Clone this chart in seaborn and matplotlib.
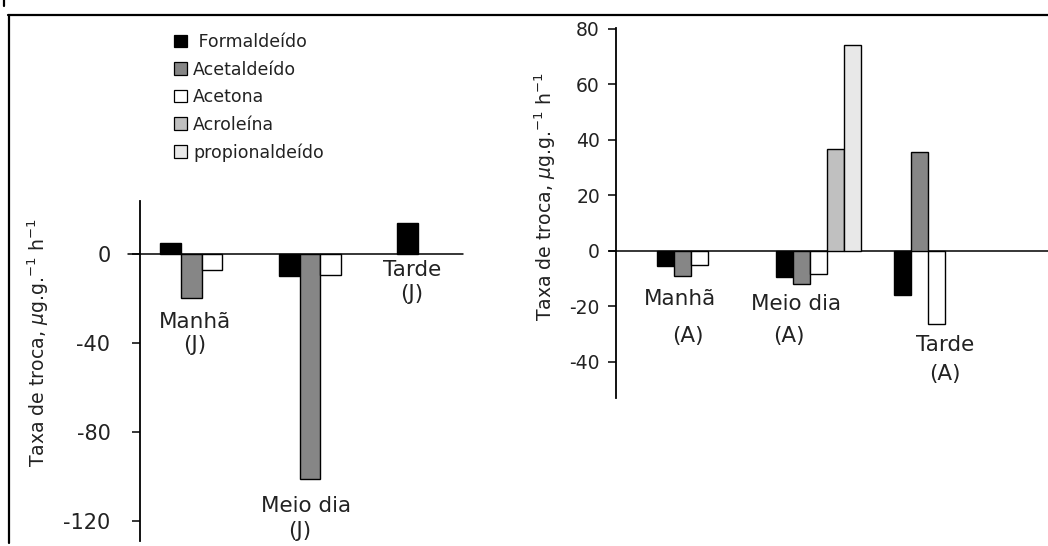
import matplotlib
matplotlib.use("Agg")
import matplotlib.pyplot as plt
from matplotlib.patches import Patch
from matplotlib.lines import Line2D
import pandas as pd
import seaborn as sns

# ---- data -------------------------------------------------------------
periods = ["Manhã", "Meio dia", "Tarde"]
compounds = ["Formaldeído", "Acetaldeído", "Acetona", "Acroleína", "propionaldeído"]

# exchange rates, plant J (three compounds)
j_formaldeido = [5, -10, 14]
j_acetaldeido = [-20, -101, 0]
j_acetona = [-7, -9.5, 0]

# exchange rates, plant A (five compounds)
a_formaldeido = [-5.5, -9.5, -16]
a_acetaldeido = [-9, -12, 35.5]
a_acetona = [-5, -8.5, -26.5]
a_acroleina = [0, 36.5, 0]
a_propionaldeido = [0, 74, 0]

j_ticks = [-120, -80, -40, 0]
a_ticks = [-40, -20, 0, 20, 40, 60, 80]

colors = ["#000000", "#868686", "#ffffff", "#c0c0c0", "#e8e8e8"]
palette = dict(zip(compounds, colors))

ylabel = r"Taxa de troca, $\mu$g.g.$^{-1}$ h$^{-1}$"


def long_frame(series):
    rows = []
    for name, vals in series.items():
        for p, v in zip(periods, vals):
            rows.append({"periodo": p, "composto": name, "taxa": v})
    df = pd.DataFrame(rows)
    # zero entries are simply not drawn (their dodge slot is kept by hue_order)
    return df[df["taxa"] != 0]


df_j = long_frame({
    "Formaldeído": j_formaldeido,
    "Acetaldeído": j_acetaldeido,
    "Acetona": j_acetona,
})
df_a = long_frame({
    "Formaldeído": a_formaldeido,
    "Acetaldeído": a_acetaldeido,
    "Acetona": a_acetona,
    "Acroleína": a_acroleina,
    "propionaldeído": a_propionaldeido,
})

# ---- figure -----------------------------------------------------------
sns.set_style("white")
plt.rcParams["font.family"] = ["DejaVu Sans"]
plt.rcParams["mathtext.fontset"] = "dejavusans"

W, H = 1048, 546
fig = plt.figure(figsize=(W / 100, H / 100), dpi=100)


def px_axes(left, top, right, bottom):
    return fig.add_axes([left / W, 1 - bottom / H, (right - left) / W, (bottom - top) / H])


def style_axis(ax, ticks, ylim, xlim, pad, size, zero_start):
    ax.set_xlim(*xlim)
    ax.set_ylim(*ylim)
    ax.set_yticks(ticks)
    ax.set_yticklabels([str(t) for t in ticks])
    ax.set_xticks([])
    ax.set_xlabel("")
    ax.set_ylabel("")
    for side in ("top", "right", "bottom"):
        ax.spines[side].set_visible(False)
    ax.spines["left"].set_color("black")
    ax.spines["left"].set_linewidth(1.3)
    ax.tick_params(axis="y", left=True, direction="out", length=5.8, width=1.1,
                   pad=pad, labelsize=size, colors="black", labelcolor="#222222")
    ax.axhline(0, xmin=zero_start, xmax=1, color="black", lw=1.1, clip_on=False, zorder=0.5)
    ax.set_facecolor("none")


# left panel: plant J
ax_j = px_axes(140, 201, 463, 541)
sns.barplot(data=df_j, x="periodo", y="taxa", hue="composto", order=periods,
            hue_order=compounds[:3], palette=palette, edgecolor="black", linewidth=1,
            width=0.52, errorbar=None, legend=False, ax=ax_j, zorder=2)
style_axis(ax_j, j_ticks, (-129, 23.8), (-0.433, 2.293), pad=15.5, size=15,
           zero_start=-12 / 323)

# right panel: plant A
ax_a = px_axes(616, 28, 1048, 398)
sns.barplot(data=df_a, x="periodo", y="taxa", hue="composto", order=periods,
            hue_order=compounds, palette=palette, edgecolor="black", linewidth=1,
            width=0.72, errorbar=None, legend=False, ax=ax_a, zorder=2)
style_axis(ax_a, a_ticks, (-53.1, 80.25), (-0.71, 2.943), pad=5.8, size=13.5,
           zero_start=-7 / 432)

# period labels written beside the bar groups (x in category units, y in data units)
label_kw = dict(ha="center", va="baseline", fontsize=15.5, color="#222222")
j_labels = [(0.03, -33.1, "Manhã"), (0.03, -43.6, "(J)"),
            (0.968, -115.8, "Meio dia"), (0.917, -127.2, "(J)"),
            (1.867, -9.9, "Tarde"), (1.862, -20.7, "(J)")]
a_labels = [(-0.169, -19.6, "Manhã"), (-0.106, -32.9, "(A)"),
            (0.816, -21.4, "Meio dia"), (0.748, -32.9, "(A)"),
            (2.076, -36.0, "Tarde"), (2.068, -46.6, "(A)")]
for x, y, s in j_labels:
    ax_j.text(x, y, s, **label_kw)
for x, y, s in a_labels:
    ax_a.text(x, y, s, **label_kw)

# y-axis titles
fig.text(38 / W, 1 - 343 / H, ylabel, rotation=90, ha="center", va="center",
         fontsize=13.6, color="#222222")
fig.text(545 / W, 1 - 197 / H, ylabel, rotation=90, ha="center", va="center",
         fontsize=13.6, color="#222222")

# legend
handles = [Patch(facecolor=c, edgecolor="black", linewidth=0.9) for c in colors]
labels = [" " + compounds[0]] + compounds[1:]
fig.legend(handles, labels, loc="upper left", bbox_to_anchor=(174 / W, 1 - 33 / H),
           frameon=False, fontsize=12.5, handlelength=0.75, handleheight=0.75,
           handletextpad=0.35, labelspacing=0.55, borderpad=0, borderaxespad=0,
           labelcolor="#222222")

# outer frame of the figure
fig.add_artist(Line2D([8 / W, 1], [1 - 15 / H, 1 - 15 / H], color="black", lw=1.6,
                      transform=fig.transFigure))
fig.add_artist(Line2D([9 / W, 9 / W], [1 - 15 / H, 1 - 543 / H], color="black", lw=1.6,
                      transform=fig.transFigure))
fig.add_artist(Line2D([3.5 / W, 3.5 / W], [1, 1 - 6 / H], color="black", lw=1.6,
                      transform=fig.transFigure))

fig.savefig("out.png", dpi=100)
